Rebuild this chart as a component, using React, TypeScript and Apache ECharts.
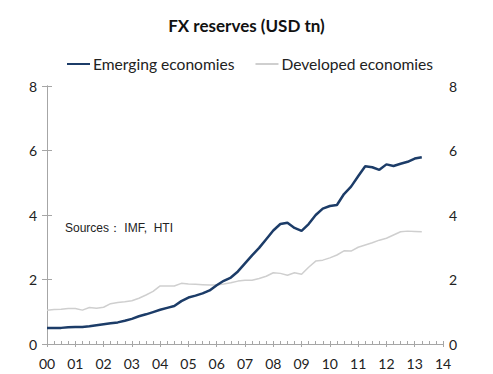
import React, { useEffect, useRef } from "react";
import * as echarts from "echarts";

const title = "FX reserves (USD tn)";
const seriesNames = ["Emerging economies", "Developed economies"];
const xTickLabels = ["00", "01", "02", "03", "04", "05", "06", "07", "08", "09", "10", "11", "12", "13", "14"];
const yTicks = [0, 2, 4, 6, 8];
const sourceNote = "Sources\uFF1A IMF,  HTI";

// quarterly values, 2000Q1 .. 2013Q2
const emerging = [
  0.5, 0.5, 0.5, 0.52, 0.53, 0.53, 0.55, 0.58, 0.61, 0.64, 0.67, 0.72,
  0.78, 0.86, 0.92, 0.99, 1.06, 1.12, 1.18, 1.33, 1.44, 1.5, 1.57, 1.66,
  1.82, 1.96, 2.06, 2.25, 2.5, 2.75, 2.98, 3.25, 3.52, 3.72, 3.76, 3.6,
  3.51, 3.72, 4.0, 4.2, 4.28, 4.31, 4.65, 4.88, 5.2, 5.51, 5.48, 5.4,
  5.57, 5.52, 5.59, 5.65, 5.75, 5.79,
];
const developed = [
  1.05, 1.07, 1.08, 1.1, 1.1, 1.05, 1.13, 1.11, 1.14, 1.25, 1.29, 1.31,
  1.34, 1.42, 1.52, 1.63, 1.8, 1.8, 1.8, 1.88, 1.86, 1.85, 1.84, 1.83,
  1.83, 1.86, 1.9, 1.95, 1.98, 1.98, 2.03, 2.1, 2.21, 2.19, 2.13, 2.21,
  2.16, 2.38, 2.57, 2.6, 2.67, 2.76, 2.89, 2.88, 3.0, 3.07, 3.14, 3.22,
  3.28, 3.38, 3.48, 3.5, 3.49, 3.48,
];

const FONT = "Lato, 'Liberation Sans', sans-serif";
const AXIS_COLOR = "#a6a6a6";

export default function App() {
  const ref = useRef<HTMLDivElement>(null);
  useEffect(() => {
    if (!ref.current) return;
    const chart = echarts.init(ref.current, null, { renderer: "svg" });
    const toPairs = (arr: number[]) => arr.map((v, i) => [i / 4, v]);
    const yAxisBase = (pos: "left" | "right") => ({
      type: "value",
      position: pos,
      min: 0,
      max: 8,
      interval: 2,
      axisLine: { show: true, lineStyle: { color: AXIS_COLOR, width: 1 } },
      axisTick: { show: true, length: 5, lineStyle: { color: AXIS_COLOR } },
      axisLabel: {
        color: "#222",
        fontFamily: FONT,
        fontSize: 14,
        margin: pos === "left" ? 10 : 6,
        formatter: (v: number) => (yTicks.includes(v) ? String(v) : ""),
      },
      splitLine: { show: false },
    });
    chart.setOption({
      animation: false,
      backgroundColor: "#fff",
      title: {
        text: title,
        left: "center",
        top: 12,
        textStyle: { fontFamily: FONT, fontSize: 17, fontWeight: "bold", color: "#111" },
      },
      legend: {
        top: 51,
        left: 62,
        itemGap: 21,
        itemWidth: 23,
        itemHeight: 2,
        icon: "rect",
        textStyle: { fontFamily: FONT, fontSize: 15.6, color: "#222", padding: [0, 0, 0, -2] },
        data: seriesNames,
      },
      grid: { left: 47, right: 50, top: 86, bottom: 30 },
      xAxis: [
        {
          type: "value",
          min: 0,
          max: 14,
          interval: 1,
          position: "bottom",
          axisLine: { show: true, lineStyle: { color: AXIS_COLOR, width: 1 } },
          axisTick: { show: true, inside: true, length: 3, lineStyle: { color: AXIS_COLOR } },
          minorTick: { show: true, splitNumber: 4, length: 3, lineStyle: { color: AXIS_COLOR } },
          axisLabel: { show: false },
          splitLine: { show: false },
        },
        {
          type: "value",
          min: 0,
          max: 14,
          interval: 1,
          position: "bottom",
          axisLine: { show: false },
          axisTick: { show: true, inside: false, length: 3, lineStyle: { color: AXIS_COLOR } },
          axisLabel: {
            color: "#222",
            fontFamily: FONT,
            fontSize: 14,
            margin: 12,
            formatter: (v: number) => xTickLabels[Math.round(v)] ?? "",
          },
          splitLine: { show: false },
        },
      ],
      yAxis: [yAxisBase("left"), yAxisBase("right")],
      graphic: [
        {
          type: "text",
          left: 65,
          top: 222,
          style: { text: sourceNote, font: "12px 'Liberation Sans', Arial, sans-serif", fill: "#222" },
        },
      ],
      series: [
        {
          name: seriesNames[0],
          type: "line",
          xAxisIndex: 0,
          yAxisIndex: 0,
          data: toPairs(emerging),
          symbol: "none",
          lineStyle: { color: "#1c3c68", width: 2.5 },
          itemStyle: { color: "#1c3c68" },
          z: 3,
        },
        {
          name: seriesNames[1],
          type: "line",
          xAxisIndex: 0,
          yAxisIndex: 0,
          data: toPairs(developed),
          symbol: "none",
          lineStyle: { color: "#cfcfcf", width: 1.5 },
          itemStyle: { color: "#cfcfcf" },
          z: 2,
        },
      ],
    });
    return () => chart.dispose();
  }, []);
  return <div ref={ref} style={{ width: 493, height: 374, position: "absolute", left: 0, top: 0 }} />;
}
